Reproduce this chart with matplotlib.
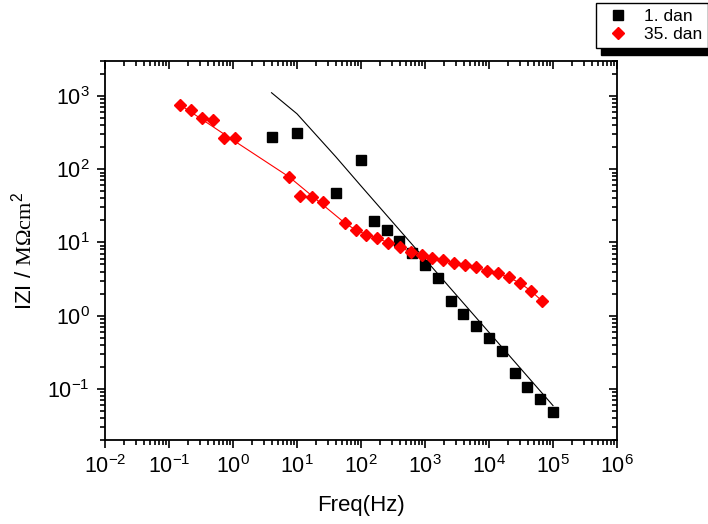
import matplotlib
matplotlib.use('Agg')
import matplotlib.pyplot as plt
from matplotlib.ticker import LogLocator
from matplotlib.patches import Rectangle

plt.rcParams['font.family'] = ['Liberation Sans', 'DejaVu Sans']
plt.rcParams['axes.unicode_minus'] = False
plt.rcParams['mathtext.fontset'] = 'custom'
plt.rcParams['mathtext.rm'] = 'Liberation Serif'
plt.rcParams['mathtext.sf'] = 'Liberation Sans'

# 1. dan - measured points and fit
dan1_f = [4, 10, 40, 100, 158, 251, 398, 631, 1000, 1585, 2512, 3981, 6310,
          10000, 15850, 25120, 39810, 63100, 100000]
dan1_z = [279, 313, 47.2, 134, 19.5, 14.8, 10.5, 7.07, 4.92, 3.30, 1.60, 1.05,
          0.711, 0.492, 0.327, 0.162, 0.107, 0.0718, 0.0487]
dan1_fit_f = [4, 10, 40, 100, 1000, 10000, 100000]
dan1_fit_z = [1106, 570, 149, 59, 5.9, 0.59, 0.059]

# 35. dan - measured points and fit
dan35_f = [0.149, 0.221, 0.331, 0.492, 0.723, 1.07, 7.59, 11.3, 17.0, 25.2,
           56.2, 82.6, 121, 180, 267, 403, 598, 888, 1300, 1910, 2840, 4265,
           6340, 9310, 13830, 20300, 30200, 44870, 66530]
dan35_z = [757, 633, 503, 472, 264, 270, 78.9, 42.4, 42.0, 35.9, 18.3, 14.8,
           12.8, 11.3, 9.94, 8.59, 7.41, 6.70, 6.13, 5.70, 5.29, 4.96, 4.62,
           4.07, 3.79, 3.34, 2.79, 2.19, 1.60]
dan35_fit_f = [0.149, 1.07, 7.59, 56.2, 82.6, 121, 180, 267, 403, 598, 888,
               1300, 1910, 2840, 4265, 6340, 9310, 13830, 20300, 30200, 44870,
               66530]
dan35_fit_z = [757, 240, 78, 18.3, 14.8, 12.8, 11.3, 9.94, 8.59, 7.41, 6.70,
               6.13, 5.70, 5.29, 4.96, 4.62, 4.07, 3.79, 3.34, 2.79, 2.19, 1.60]

W, H = 708, 524
fig = plt.figure(figsize=(W / 100, H / 100), dpi=100)
ax = fig.add_axes([105 / W, 1 - 440 / H, 512 / W, 379 / H])

ax.plot(dan1_fit_f, dan1_fit_z, color='black', lw=0.8)
ax.plot(dan35_fit_f, dan35_fit_z, color='#ff0000', lw=0.8)
h1, = ax.plot(dan1_f, dan1_z, 's', color='black', ms=6.5, ls='none', label='1. dan')
h2, = ax.plot(dan35_f, dan35_z, 'D', color='#ff0000', ms=6.2, ls='none', label='35. dan')

ax.set_xscale('log')
ax.set_yscale('log')
ax.set_xlim(1e-2, 1e6)
ax.set_ylim(0.02, 3000)
for a in (ax.xaxis, ax.yaxis):
    a.set_major_locator(LogLocator(base=10, numticks=20))
    a.set_minor_locator(LogLocator(base=10, subs=range(2, 10), numticks=100))

ax.tick_params(which='both', direction='out', labelsize=15.5, width=1.2)
ax.tick_params(which='major', length=6, pad=5)
ax.tick_params(which='minor', length=3.5)
for s in ax.spines.values():
    s.set_linewidth(1.3)

ax.set_xlabel('Freq(Hz)', fontsize=16, labelpad=12)
ax.set_ylabel(r'IZI / $\mathrm{M\Omega cm}^{\mathsf{2}}$', fontsize=16, labelpad=8)

# inward ticks on top and right
ax2 = fig.add_axes(ax.get_position(), sharex=ax, sharey=ax, frameon=False)
ax2.patch.set_visible(False)
ax2.tick_params(which='both', direction='in', top=True, right=True, bottom=False,
                left=False, labelbottom=False, labelleft=False, width=1.2)
ax2.tick_params(which='major', length=6)
ax2.tick_params(which='minor', length=3.5)

leg = fig.legend([h1, h2], ['1. dan', '35. dan'], loc='upper right',
                 bbox_to_anchor=(1.0, 1 - 3 / H), bbox_transform=fig.transFigure,
                 borderaxespad=0, fontsize=12.5, fancybox=False, framealpha=1,
                 edgecolor='black', handlelength=1.8, handletextpad=0.6,
                 borderpad=0.35, labelspacing=0.15, numpoints=1)
leg.get_frame().set_linewidth(1.0)

fig.canvas.draw()
bb = leg.get_window_extent(fig.canvas.get_renderer())
shadow = Rectangle(((bb.x0 + 5) / W, (bb.y0 - 7) / H), bb.width / W, 7 / H,
                   transform=fig.transFigure, color='black', zorder=4)
fig.patches.append(shadow)

fig.savefig('out.png', dpi=100)
